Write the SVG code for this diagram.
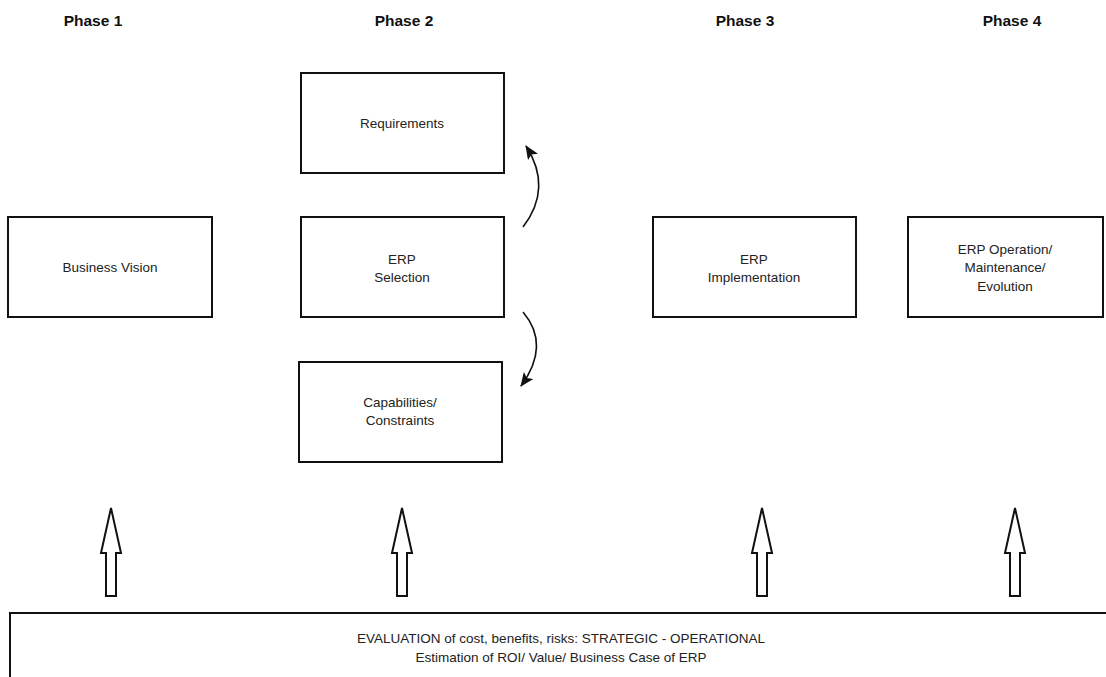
<svg xmlns="http://www.w3.org/2000/svg" width="1106" height="677" viewBox="0 0 1106 677">
<style>
.box{fill:#fff;stroke:#111;stroke-width:2}
.t{font-family:"Liberation Sans",Arial,sans-serif;font-size:13.5px;fill:#222;text-anchor:middle}
.h{font-family:"Liberation Sans",Arial,sans-serif;font-size:15.5px;font-weight:bold;fill:#111;text-anchor:middle}
.curve{fill:none;stroke:#111;stroke-width:1.6}
.hollow{fill:#fff;stroke:#111;stroke-width:2;stroke-linejoin:miter}
</style>
<defs>
<marker id="ah" viewBox="0 0 14 12" refX="13" refY="6" markerWidth="14" markerHeight="12" markerUnits="userSpaceOnUse" orient="auto">
<path d="M0,0 L14,6 L0,12 L3,6 Z" fill="#111"/>
</marker>
<path id="harrow" d="M0,0 L10,45 L5,45 L5,88 L-5,88 L-5,45 L-10,45 Z"/>
</defs>
<rect width="1106" height="677" fill="#fff"/>
<g id="headers">
<text class="h" x="93" y="26">Phase 1</text>
<text class="h" x="404" y="26">Phase 2</text>
<text class="h" x="745" y="26">Phase 3</text>
<text class="h" x="1012" y="26">Phase 4</text>
</g>
<g id="business-vision">
<rect class="box" x="8" y="217" width="204" height="100"/>
<text class="t" x="110" y="272">Business Vision</text>
</g>
<g id="requirements">
<rect class="box" x="301" y="73" width="203" height="100"/>
<text class="t" x="402" y="128">Requirements</text>
</g>
<g id="erp-selection">
<rect class="box" x="301" y="217" width="203" height="100"/>
<text class="t" x="402" y="264">ERP</text>
<text class="t" x="402" y="282">Selection</text>
</g>
<g id="capabilities">
<rect class="box" x="299" y="362" width="203" height="100"/>
<text class="t" x="400" y="407">Capabilities/</text>
<text class="t" x="400" y="425">Constraints</text>
</g>
<g id="erp-implementation">
<rect class="box" x="653" y="217" width="203" height="100"/>
<text class="t" x="754" y="264">ERP</text>
<text class="t" x="754" y="282">Implementation</text>
</g>
<g id="erp-operation">
<rect class="box" x="908" y="217" width="195" height="100"/>
<text class="t" x="1005" y="254">ERP Operation/</text>
<text class="t" x="1005" y="272">Maintenance/</text>
<text class="t" x="1005" y="291">Evolution</text>
</g>
<g id="evaluation">
<rect class="box" x="10" y="613" width="1110" height="80"/>
<text class="t" x="561" y="643">EVALUATION of cost, benefits, risks: STRATEGIC - OPERATIONAL</text>
<text class="t" x="561" y="662">Estimation of ROI/ Value/ Business Case of ERP</text>
</g>
<g id="connectors">
<path class="curve" d="M523,227 Q553,188 526,146" marker-end="url(#ah)"/>
<path class="curve" d="M523,312 Q551,345 521,386" marker-end="url(#ah)"/>
<use href="#harrow" class="hollow" x="111" y="508"/>
<use href="#harrow" class="hollow" x="402" y="508"/>
<use href="#harrow" class="hollow" x="762" y="508"/>
<use href="#harrow" class="hollow" x="1015" y="508"/>
</g>
</svg>
